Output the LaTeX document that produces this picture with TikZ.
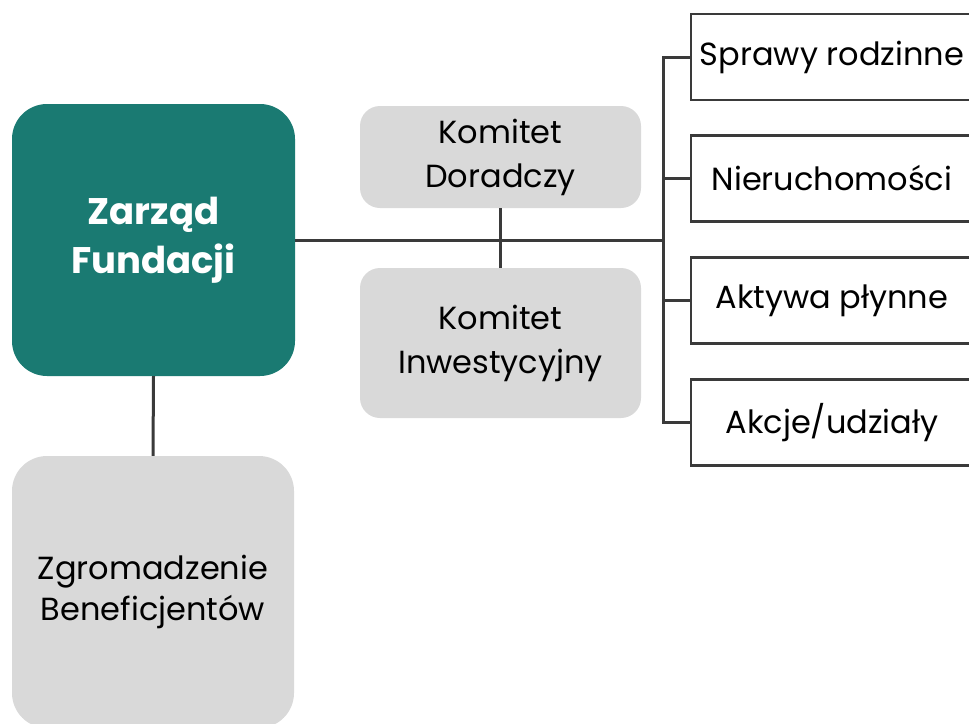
\documentclass[tikz,border=0pt]{standalone}
\usepackage{fontspec}
\setmainfont{Poppins}
\usepackage{tikz}
\usepackage{xcolor}
\definecolor{zarzadteal}{HTML}{1A7A72}
\definecolor{boxgrey}{HTML}{D9D9D9}
\definecolor{linegrey}{HTML}{3A3A3A}

\tikzset{
	board/.style={fill=zarzadteal, rounded corners=35pt, minimum width=283pt, minimum height=272pt,
		text=white, align=center, font=\fontsize{37}{49}\selectfont\bfseries},
	greybox/.style={fill=boxgrey, align=center, font=\fontsize{32}{44}\selectfont},
	areabox/.style={draw=linegrey, line width=2.5pt, minimum width=282pt, minimum height=86pt,
		font=\fontsize{32}{44}\selectfont},
	conn/.style={draw=linegrey, line width=3pt}
}

\begin{document}
\begin{tikzpicture}[x=1pt, y=1pt]
	\useasboundingbox (0,0) rectangle (969,-723);
	\clip (0,0) rectangle (969,-723);
	% left column
	\node[board] (zarzad) at (153.5,-240) {Zarząd\\Fundacji};
	\node[greybox, rounded corners=35pt, minimum width=282pt, minimum height=272pt] (zgrom) at (153,-592) {Zgromadzenie\\[-3pt]Beneficjentów};
	% committees
	\node[greybox, rounded corners=20pt, minimum width=281pt, minimum height=102pt] (doradczy) at (500.5,-157) {Komitet\\Doradczy};
	\node[greybox, rounded corners=20pt, minimum width=281pt, minimum height=150pt] (inwest) at (500.5,-343) {Komitet\\Inwestycyjny};
	% areas
	\node[areabox] (sprawy) at (832,-57) {Sprawy rodzinne};
	\node[areabox] (nieruch) at (832,-178.5) {Nieruchomości};
	\node[areabox] (aktywa) at (832,-300.5) {Aktywa płynne};
	\node[areabox] (akcje) at (832,-422.5) {Akcje/udziały};
	% connectors
	\coordinate (bus) at (663,-240);
	\draw[conn] (zarzad.south) -- (zgrom.north);
	\draw[conn] (zarzad.east) -- (bus);
	\draw[conn] (doradczy.south) -- (inwest.north);
	\draw[conn] (sprawy.west) -| (bus) |- (akcje.west);
	\draw[conn] (bus |- nieruch.west) -- (nieruch.west);
	\draw[conn] (bus |- aktywa.west) -- (aktywa.west);
\end{tikzpicture}
\end{document}
